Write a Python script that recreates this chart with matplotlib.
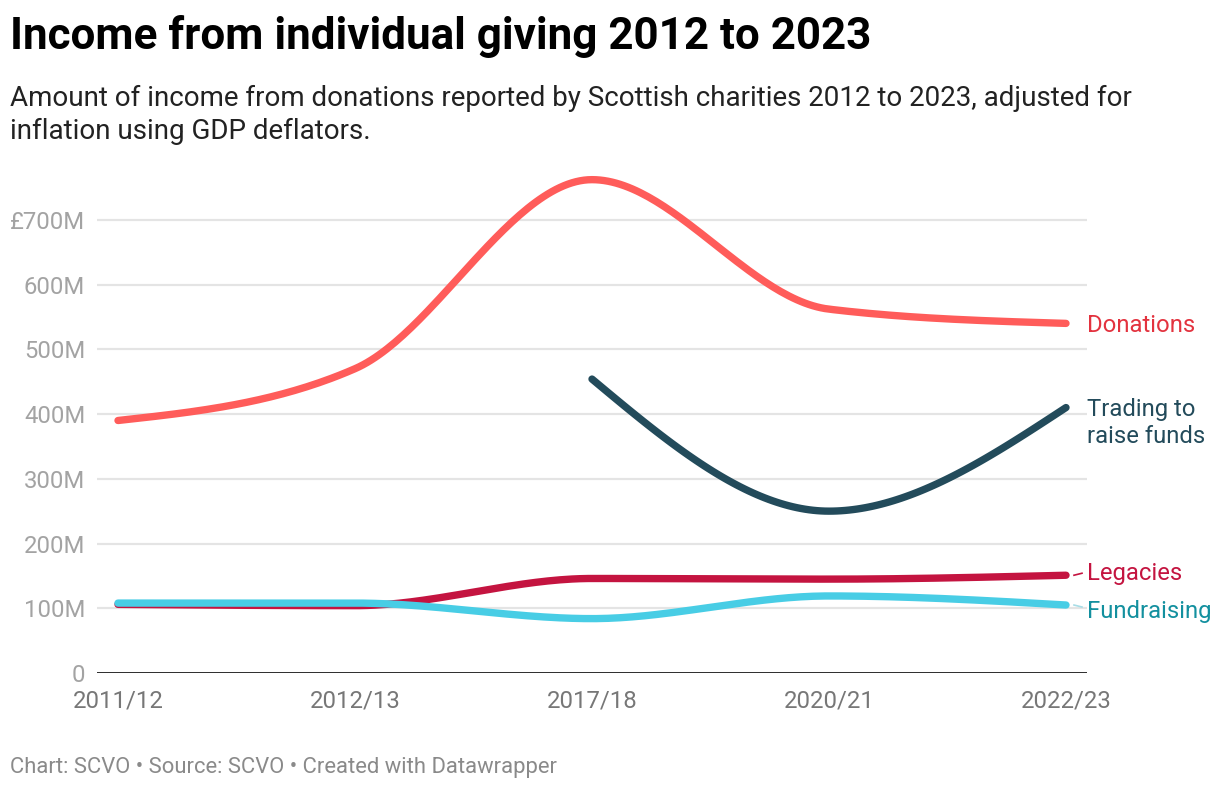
import numpy as np
import matplotlib
matplotlib.use("Agg")
import matplotlib.pyplot as plt

plt.rcParams['font.family'] = ['Roboto', 'DejaVu Sans']

# ---- data (values in £M) ----
years = ["2011/12", "2012/13", "2017/18", "2020/21", "2022/23"]
donations = [390, 470, 762, 562, 540]
trading = [None, None, 454, 250, 410]
legacies = [106, 104, 146, 145, 151]
fundraising = [108, 108, 84, 119, 105]
y_ticks = [0, 100, 200, 300, 400, 500, 600, 700]
y_tick_labels = ["0", "100M", "200M", "300M", "400M", "500M", "600M", "£700M"]

series_names = ["Donations", "Trading to\nraise funds", "Legacies", "Fundraising"]
series_vals = [donations, trading, legacies, fundraising]
line_colors = ["#ff5c5a", "#234b5b", "#c41440", "#48cde5"]
label_colors = ["#e3333f", "#234b5b", "#c41440", "#13909f"]


def monotone_curve(xs, ys, n=60):
    """d3 curveMonotoneX style rendering."""
    xs = np.asarray(xs, float)
    ys = np.asarray(ys, float)
    m = len(xs)
    if m < 2:
        return xs, ys
    h = np.diff(xs)
    s = np.diff(ys) / h
    t = np.zeros(m)
    for i in range(1, m - 1):
        s0, s1 = s[i - 1], s[i]
        h0, h1 = h[i - 1], h[i]
        p = (s0 * h1 + s1 * h0) / (h0 + h1)
        t[i] = (np.sign(s0) + np.sign(s1)) * min(abs(s0), abs(s1), 0.5 * abs(p))
    if m > 2:
        t[0] = (3 * s[0] - t[1]) / 2
        t[-1] = (3 * s[-1] - t[-2]) / 2
    else:
        t[0] = t[-1] = s[0]
    ox, oy = [], []
    for i in range(m - 1):
        u = np.linspace(0, 1, n)
        hh = h[i]
        h00 = 2 * u**3 - 3 * u**2 + 1
        h10 = u**3 - 2 * u**2 + u
        h01 = -2 * u**3 + 3 * u**2
        h11 = u**3 - u**2
        yy = h00 * ys[i] + h10 * hh * t[i] + h01 * ys[i + 1] + h11 * hh * t[i + 1]
        xx = xs[i] + u * hh
        ox.extend(xx)
        oy.extend(yy)
    return np.array(ox), np.array(oy)


W, H = 1220, 792
fig = plt.figure(figsize=(W / 100, H / 100), dpi=100)
fig.patch.set_facecolor("white")

ax_left, ax_right = 97, 1087
ax_bottom, ax_top = 673, 168
ax = fig.add_axes([ax_left / W, 1 - ax_bottom / H,
                   (ax_right - ax_left) / W, (ax_bottom - ax_top) / H])
ax.set_facecolor("white")

x = np.arange(len(years))
pad = 21 / 237
ax.set_xlim(-pad, len(years) - 1 + pad)
ax.set_ylim(0, 780)

for v in y_ticks[1:]:
    ax.axhline(v, color="#e4e4e4", lw=1.6, zorder=1)
ax.axhline(0, color="#1a1a1a", lw=2.0, zorder=5)

for name, vals, lc in zip(series_names, series_vals, line_colors):
    pts = [(xi, v) for xi, v in zip(x, vals) if v is not None]
    px = [p[0] for p in pts]
    py = [p[1] for p in pts]
    cx, cy = monotone_curve(px, py)
    ax.plot(cx, cy, color=lc, lw=5.3, solid_capstyle="round", zorder=4)

# direct labels
LFS = 17.2
lab_x = 1087
label_y_vals = [donations[-1], trading[-1], legacies[-1], fundraising[-1]]
label_offsets = [-2, 0, 2, -6]  # upward shift in px
for name, yv, tc, off in zip(series_names, label_y_vals, label_colors, label_offsets):
    xd, yd = ax.transData.transform((x[-1], yv))
    fx = lab_x / W
    if "\n" in name:
        fig.text(fx, (yd + 10) / H, name, color=tc, fontsize=LFS,
                 ha="left", va="top", linespacing=1.24)
    else:
        fig.text(fx, (yd + off) / H, name, color=tc, fontsize=LFS,
                 ha="left", va="center")

# small connector dashes for Legacies and Fundraising
for yv, lc, dy in [(legacies[-1], line_colors[2], 2), (fundraising[-1], "#a8dde6", -2)]:
    xd, yd = ax.transData.transform((x[-1], yv))
    fig.add_artist(plt.Line2D([(xd + 8) / W, (xd + 16) / W],
                              [yd / H, (yd + dy) / H],
                              color=lc, lw=1.2, transform=fig.transFigure))

ax.set_xticks(x)
ax.set_xticklabels(years, fontsize=17.2, color="#777777")
ax.set_yticks(y_ticks)
ax.set_yticklabels(y_tick_labels, fontsize=17.2, color="#a3a3a3")
ax.tick_params(axis="both", length=0)
ax.tick_params(axis="x", pad=12)
ax.tick_params(axis="y", pad=8.5)
for sp in ax.spines.values():
    sp.set_visible(False)

fig.text(10 / W, 1 - 37 / H, "Income from individual giving 2012 to 2023",
         fontsize=31.7, fontweight="bold", color="#000000", va="center", ha="left")
fig.text(10 / W, 1 - 98 / H,
         "Amount of income from donations reported by Scottish charities 2012 to 2023, adjusted for",
         fontsize=20, color="#222222", va="center", ha="left")
fig.text(10 / W, 1 - 131 / H, "inflation using GDP deflators.",
         fontsize=20, color="#222222", va="center", ha="left")
fig.text(10 / W, 1 - 767 / H,
         "Chart: SCVO \u2022 Source: SCVO \u2022 Created with Datawrapper",
         fontsize=15.8, color="#8a8a8a", va="center", ha="left")

fig.savefig("out.png", dpi=100, facecolor="white")
